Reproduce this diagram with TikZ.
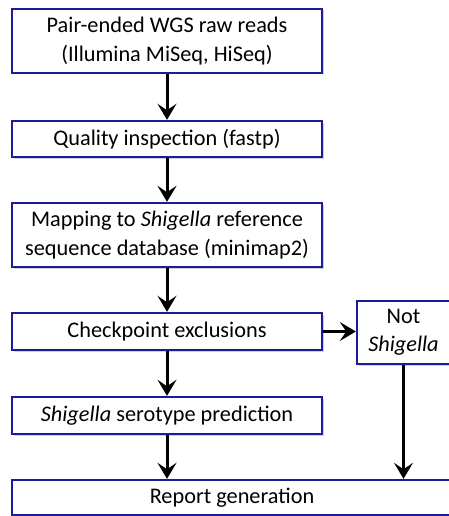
\documentclass[tikz,border=0pt]{standalone}
\usepackage{fontspec}
\setmainfont{Carlito}
\usetikzlibrary{arrows.meta,shadows}
\definecolor{boxblue}{HTML}{1C1C99}
\begin{document}
\begin{tikzpicture}[x=1pt,y=-1pt,
  stepbox/.style={draw=boxblue, line width=2.4pt, fill=white, rectangle, inner sep=0pt,
    align=center, font=\fontsize{22.3}{28.5}\selectfont,
    drop shadow={shadow xshift=1.5pt, shadow yshift=-1.5pt, opacity=0.35, fill=gray}},
  flow/.style={line width=3pt, -{Stealth[length=16pt,width=19pt,inset=6.5pt]}}]
\useasboundingbox[fill=white] (0,0) rectangle (448,516);
\node[stepbox, minimum width=310pt, minimum height=64pt] (b1) at (167,41)
  {Pair-ended WGS raw reads\\(Illumina MiSeq, HiSeq)};
\node[stepbox, minimum width=310pt, minimum height=36pt] (b2) at (167,139)
  {Quality inspection (fastp)};
\node[stepbox, minimum width=310pt, minimum height=64pt] (b3) at (167,235)
  {Mapping to \textit{Shigella} reference\\sequence database (minimap2)};
\node[stepbox, minimum width=310pt, minimum height=37pt] (b4) at (167,331.5)
  {Checkpoint exclusions};
\node[stepbox, minimum width=93pt, minimum height=63pt] (ns) at (403.5,332.5)
  {Not\\\textit{Shigella}};
\node[stepbox, minimum width=310pt, minimum height=37pt] (b5) at (167,415.5)
  {\textit{Shigella} serotype prediction};
\node[stepbox, minimum width=440pt, minimum height=35pt] (b6) at (232,497.5)
  {Report generation};
\draw[flow] (b1) -- (b2);
\draw[flow] (b2) -- (b3);
\draw[flow] (b3) -- (b4);
\draw[flow] (b4) -- (b5);
\draw[flow] (b4.east) -- (ns.west |- b4.east);
\draw[flow] (ns.south) -- (ns.south |- b6.north);
\draw[flow] (b5.south) -- (b5.south |- b6.north);
\end{tikzpicture}
\end{document}
